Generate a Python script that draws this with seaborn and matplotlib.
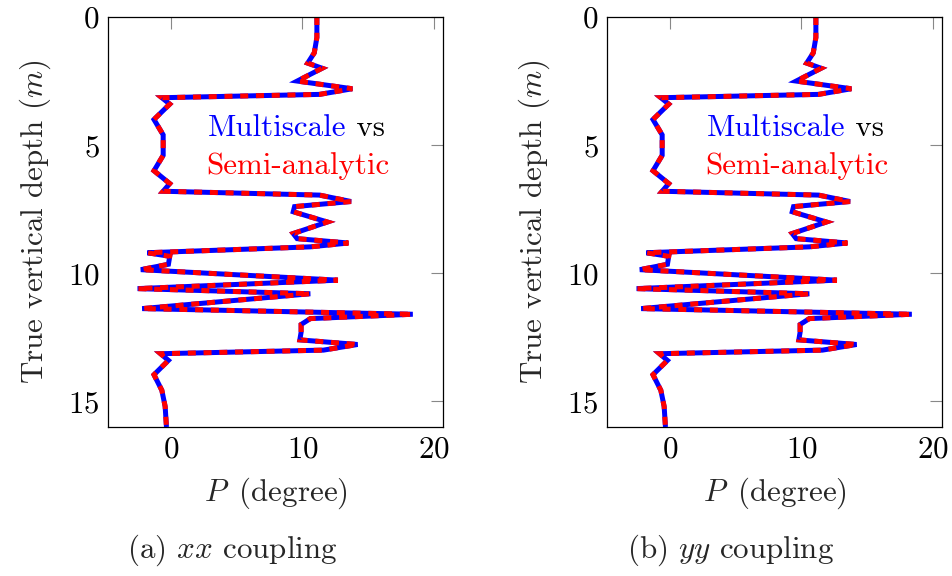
import matplotlib
matplotlib.use("Agg")
import matplotlib.pyplot as plt
import seaborn as sns

# ---- data ----
depth = [0.0, 0.8, 1.4, 1.8, 2.0, 2.5, 2.8, 3.02, 3.15, 3.4, 4.0, 4.6, 5.4, 6.0,
         6.5, 6.8, 6.95, 7.2, 7.4, 7.6, 8.0, 8.45, 8.65, 8.82, 8.97, 9.2, 9.34,
         9.65, 9.86, 10.27, 10.6, 10.8, 11.38, 11.6, 11.77, 12.0, 12.3, 12.6,
         12.78, 13.0, 13.14, 13.4, 13.96, 14.57, 15.2, 16.0]
P_xx = [11.1, 11.1, 10.9, 10.4, 11.5, 9.6, 13.8, 11.3, -0.7, -0.1, -1.3, -0.6,
        -0.6, -1.3, -0.1, -0.6, 11.3, 13.7, 9.4, 9.3, 11.9, 9.3, 9.6, 13.5,
        10.6, -1.8, -0.1, -0.2, -2.3, 12.7, -2.55, 10.6, -2.2, 18.4, 10.6, 9.9,
        9.9, 9.8, 14.2, 11.6, -0.8, -0.2, -1.3, -0.7, -0.45, -0.35]
P_yy = [11.1, 11.1, 10.9, 10.4, 11.5, 9.6, 13.8, 11.3, -0.7, -0.1, -1.3, -0.6,
        -0.6, -1.3, -0.1, -0.6, 11.3, 13.7, 9.4, 9.3, 11.9, 9.3, 9.6, 13.5,
        10.6, -1.8, -0.1, -0.2, -2.3, 12.7, -2.55, 10.6, -2.2, 18.4, 10.6, 9.9,
        9.9, 9.8, 14.2, 11.6, -0.8, -0.2, -1.3, -0.7, -0.45, -0.35]
x_ticks = [0, 10, 20]
y_ticks = [0, 5, 10, 15]
captions = ["(a) $xx$ coupling", "(b) $yy$ coupling"]

sns.set_theme(style="white")
plt.rcParams.update({
    "font.family": ["cmr10"],
    "mathtext.fontset": "cm",
    "axes.formatter.use_mathtext": True,
    "axes.unicode_minus": False,
})

FS = 22.3
fig = plt.figure(figsize=(9.52, 5.76), dpi=100)
W, H = 952, 576
axes = [fig.add_axes([108 / W, 1 - 427 / H, 335 / W, 410 / H]),
        fig.add_axes([607 / W, 1 - 427 / H, 335 / W, 410 / H])]

for ax, P, cap, cx in zip(axes, [P_xx, P_yy], captions, [232, 731]):
    sns.lineplot(x=P, y=depth, sort=False, estimator=None, color="blue",
                 lw=3.6, ax=ax, solid_joinstyle="miter", solid_capstyle="butt")
    sns.lineplot(x=P, y=depth, sort=False, estimator=None, color="red",
                 lw=3.6, ax=ax, dash_joinstyle="miter", dash_capstyle="butt")
    ax.lines[-1].set_dashes([1.6, 1.55])
    ax.set_xlim(-4.8, 20.7)
    ax.set_ylim(16, 0)
    ax.set_xticks(x_ticks)
    ax.set_yticks(y_ticks)
    ax.tick_params(direction="in", length=8.5, width=0.8, color="#888888",
                   top=True, right=True, labelsize=FS, pad=6,
                   labelcolor="black")
    for s in ax.spines.values():
        s.set_color("black")
        s.set_linewidth(0.9)
    ax.set_xlabel(r"$P\,$ (degree)", fontsize=FS, labelpad=9)
    ax.set_ylabel("True vertical depth ($m$)", fontsize=FS, labelpad=11)
    t = ax.text(0.2985, 0.710, "Multiscale", color="blue", fontsize=FS,
                transform=ax.transAxes, ha="left", va="baseline")
    ax.annotate(" vs", xy=(1, 0), xycoords=t, ha="left", va="bottom",
                color="black", fontsize=FS)
    ax.text(0.2925, 0.617, "Semi-analytic", color="red", fontsize=FS,
            transform=ax.transAxes, ha="left", va="baseline")
    fig.text(cx / W, 1 - 550 / H, cap, fontsize=FS, ha="center", va="center")

fig.savefig("out.png", dpi=100)
